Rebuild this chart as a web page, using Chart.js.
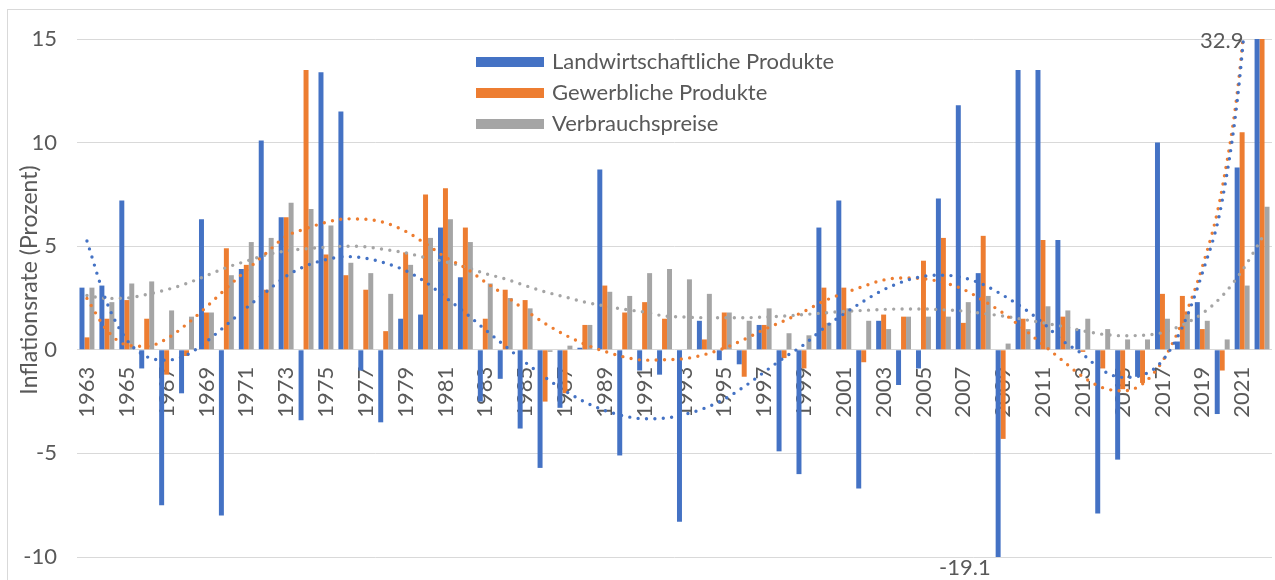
<!DOCTYPE html>
<html>
<head>
<meta charset="utf-8">
<title>Inflationsrate</title>
<script src="https://cdn.jsdelivr.net/npm/chart.js@4.4.0/dist/chart.umd.min.js"></script>
<style>
    html, body { margin: 0; padding: 0; background: #fff; }
    #wrap { position: relative; width: 1275px; height: 580px; }
</style>
</head>
<body>
<div id="wrap"><canvas id="inflationChart"></canvas></div>
<script>
// Jahre
const years = [
    '1963', '1964', '1965', '1966', '1967', '1968', '1969', '1970', '1971', '1972',
    '1973', '1974', '1975', '1976', '1977', '1978', '1979', '1980', '1981', '1982',
    '1983', '1984', '1985', '1986', '1987', '1988', '1989', '1990', '1991', '1992',
    '1993', '1994', '1995', '1996', '1997', '1998', '1999', '2000', '2001', '2002',
    '2003', '2004', '2005', '2006', '2007', '2008', '2009', '2010', '2011', '2012',
    '2013', '2014', '2015', '2016', '2017', '2018', '2019', '2020', '2021', '2022'
];

// Landwirtschaftliche Produkte (%)
const landwirtschaft = [
    3.0, 3.1, 7.2, -0.9, -7.5, -2.1, 6.3, -8.0, 3.9, 10.1,
    6.4, -3.4, 13.4, 11.5, -1.0, -3.5, 1.5, 1.7, 5.9, 3.5,
    -2.5, -1.4, -3.8, -5.7, -2.8, 0.1, 8.7, -5.1, -1.0, -1.2,
    -8.3, 1.4, -0.5, -0.7, 1.2, -4.9, -6.0, 5.9, 7.2, -6.7,
    1.4, -1.7, -0.9, 7.3, 11.8, 3.7, -19.1, 13.5, 13.5, 5.3,
    1.0, -7.9, -5.3, -1.3, 10.0, 0.4, 2.3, -3.1, 8.8, 34.0
];

// Gewerbliche Produkte (%)
const gewerblich = [
    0.6, 1.5, 2.4, 1.5, -1.2, -0.3, 1.8, 4.9, 4.1, 2.9,
    6.4, 13.5, 4.6, 3.6, 2.9, 0.9, 4.7, 7.5, 7.8, 5.9,
    1.5, 2.9, 2.4, -2.5, -2.1, 1.2, 3.1, 1.8, 2.3, 1.5,
    0.0, 0.5, 1.8, -1.3, 1.2, -0.4, -0.9, 3.0, 3.0, -0.6,
    1.7, 1.6, 4.3, 5.4, 1.3, 5.5, -4.3, 1.5, 5.3, 1.6,
    -0.1, -0.9, -1.9, -1.6, 2.7, 2.6, 1.0, -1.0, 10.5, 32.9
];

// Verbrauchspreise (%)
const verbrauch = [
    3.0, 2.3, 3.2, 3.3, 1.9, 1.6, 1.8, 3.6, 5.2, 5.4,
    7.1, 6.8, 6.0, 4.2, 3.7, 2.7, 4.1, 5.4, 6.3, 5.2,
    3.2, 2.5, 2.0, -0.1, 0.2, 1.2, 2.8, 2.6, 3.7, 3.9,
    3.4, 2.7, 1.8, 1.4, 2.0, 0.8, 0.7, 1.3, 2.0, 1.4,
    1.0, 1.6, 1.6, 1.6, 2.3, 2.6, 0.3, 1.0, 2.1, 1.9,
    1.5, 1.0, 0.5, 0.5, 1.5, 1.8, 1.4, 0.5, 3.1, 6.9
];

// Trendlinien
const trendLandwirtschaft = [
    5.25, 2.28, 0.48, -0.33, -0.5, -0.25, 0.4, 1.2, 2.02, 2.8,
    3.55, 4.05, 4.35, 4.5, 4.42, 4.18, 3.82, 3.27, 2.53, 1.78,
    0.97, 0.18, -0.6, -1.33, -1.98, -2.52, -2.93, -3.2, -3.33, -3.3,
    -3.12, -2.82, -2.38, -1.78, -1.08, -0.38, 0.25, 1.05, 1.73, 2.35,
    2.9, 3.3, 3.55, 3.6, 3.48, 3.15, 2.63, 2.02, 1.3, 0.43,
    -0.22, -1.0, -1.33, -1.22, -0.52, 1.1, 3.7, 7.2, 14.3, 28.0
];
const trendGewerblich = [
    2.48, 0.95, 0.23, 0.17, 0.53, 1.23, 2.07, 2.97, 3.83, 4.67,
    5.48, 5.85, 6.15, 6.32, 6.3, 6.12, 5.72, 5.12, 4.47, 3.95,
    3.27, 2.62, 1.92, 1.27, 0.72, 0.27, -0.08, -0.35, -0.5, -0.48,
    -0.43, -0.23, 0.08, 0.5, 0.98, 1.4, 1.85, 2.35, 2.73, 3.07,
    3.37, 3.47, 3.43, 3.25, 2.92, 2.38, 1.77, 1.03, 0.25, -0.53,
    -1.3, -1.83, -1.98, -1.65, -0.55, 1.35, 4.0, 7.8, 14.6, 28.0
];
const trendVerbrauch = [
    2.62, 2.48, 2.5, 2.67, 2.9, 3.2, 3.58, 3.97, 4.28, 4.58,
    4.77, 4.88, 4.95, 5.0, 4.97, 4.83, 4.68, 4.45, 4.25, 4.0,
    3.68, 3.42, 3.1, 2.8, 2.55, 2.3, 2.12, 1.95, 1.82, 1.63,
    1.58, 1.55, 1.55, 1.55, 1.58, 1.63, 1.7, 1.78, 1.85, 1.9,
    1.95, 1.97, 1.97, 1.93, 1.87, 1.75, 1.63, 1.47, 1.3, 1.13,
    0.92, 0.75, 0.68, 0.7, 0.83, 1.2, 1.75, 2.6, 3.82, 5.4
];

// Achse
const yTicks = [-10, -5, 0, 5, 10, 15];
const yTitle = 'Inflationsrate (Prozent)';

const seriesNames = ['Landwirtschaftliche Produkte', 'Gewerbliche Produkte', 'Verbrauchspreise'];
const colors = ['#4472C4', '#ED7D31', '#A5A5A5'];
const textColor = '#595959';
const gridColor = '#D9D9D9';
const fontFamily = 'Lato, "Open Sans", sans-serif';

// Rahmen, Achsentitel, Legende und Datenbeschriftungen
const decorations = {
    id: 'decorations',
    beforeDraw(chart) {
        const ctx = chart.ctx;
        ctx.save();
        ctx.fillStyle = '#fff';
        ctx.fillRect(0, 0, chart.width, chart.height);
        ctx.strokeStyle = gridColor;
        ctx.lineWidth = 1;
        ctx.strokeRect(7.5, 9.5, chart.width + 20, chart.height + 20);
        ctx.restore();
    },
    afterDraw(chart) {
        const ctx = chart.ctx;
        const area = chart.chartArea;

        // y axis title
        ctx.save();
        ctx.translate(30, 280);
        ctx.rotate(-Math.PI / 2);
        ctx.font = '23px ' + fontFamily;
        ctx.fillStyle = textColor;
        ctx.textAlign = 'center';
        ctx.textBaseline = 'middle';
        ctx.fillText(yTitle, 0, 0);
        ctx.restore();

        // legend inside the plot
        ctx.save();
        ctx.font = '22px ' + fontFamily;
        ctx.textBaseline = 'middle';
        ctx.textAlign = 'left';
        seriesNames.forEach((name, i) => {
            const rowY = 62 + i * 31;
            ctx.fillStyle = colors[i];
            ctx.fillRect(476, rowY - 5, 68, 10);
            ctx.fillStyle = textColor;
            ctx.fillText(name, 552, rowY);
        });
        ctx.restore();

        // data labels for clipped bars
        const blueMeta = chart.getDatasetMeta(0);
        const last = years.length - 1;
        const i2009 = years.indexOf('2009');
        const barLast = blueMeta.data[last];
        const bar2009 = blueMeta.data[i2009];
        ctx.save();
        ctx.font = '22px ' + fontFamily;
        ctx.fillStyle = textColor;
        ctx.textAlign = 'right';
        ctx.textBaseline = 'middle';
        ctx.fillText(gewerblich[last].toFixed(1), barLast.x - barLast.width / 2 - 11, area.top + 2);
        ctx.fillText(landwirtschaft[i2009].toFixed(1), bar2009.x - bar2009.width / 2 - 5, area.bottom + 11);
        ctx.restore();
    }
};

function trendDataset(label, data, color) {
    return {
        type: 'line',
        label: label,
        data: data,
        borderColor: color,
        borderWidth: 3.4,
        borderDash: [0, 8.4],
        borderCapStyle: 'round',
        pointRadius: 0,
        fill: false,
        cubicInterpolationMode: 'monotone',
        order: 0
    };
}

function barDataset(label, data, color) {
    return {
        type: 'bar',
        label: label,
        data: data,
        backgroundColor: color,
        borderWidth: 0,
        categoryPercentage: 0.75,
        barPercentage: 1.0,
        order: 1
    };
}

const ctx = document.getElementById('inflationChart').getContext('2d');
const chart = new Chart(ctx, {
    data: {
        labels: years,
        datasets: [
            barDataset(seriesNames[0], landwirtschaft, colors[0]),
            barDataset(seriesNames[1], gewerblich, colors[1]),
            barDataset(seriesNames[2], verbrauch, colors[2]),
            trendDataset('Trend ' + seriesNames[0], trendLandwirtschaft, colors[0]),
            trendDataset('Trend ' + seriesNames[1], trendGewerblich, colors[1]),
            trendDataset('Trend ' + seriesNames[2], trendVerbrauch, colors[2])
        ]
    },
    options: {
        responsive: true,
        maintainAspectRatio: false,
        animation: false,
        devicePixelRatio: 1,
        layout: {
            padding: { top: 39, right: 3, bottom: 23, left: 0 }
        },
        plugins: {
            legend: { display: false },
            tooltip: { enabled: false }
        },
        scales: {
            x: {
                type: 'category',
                position: { y: 0 },
                offset: true,
                grid: { display: false, drawTicks: false },
                border: { display: false },
                ticks: {
                    autoSkip: false,
                    minRotation: 90,
                    maxRotation: 90,
                    padding: 17,
                    color: textColor,
                    font: { family: fontFamily, size: 22 },
                    callback: (value, index) => (index % 2 === 0 ? years[index] : '')
                },
                afterFit: (scale) => {
                    scale.paddingLeft = 0;
                    scale.paddingRight = 0;
                    scale.paddingTop = 0;
                    scale.paddingBottom = 0;
                }
            },
            y: {
                min: yTicks[0],
                max: yTicks[yTicks.length - 1],
                grid: { color: gridColor, lineWidth: 1, drawTicks: false },
                border: { display: false },
                afterBuildTicks: (scale) => {
                    scale.ticks = yTicks.map(v => ({ value: v }));
                },
                afterFit: (scale) => {
                    scale.width = 77;
                    scale.paddingTop = 0;
                    scale.paddingBottom = 0;
                },
                ticks: {
                    padding: 20,
                    color: textColor,
                    font: { family: fontFamily, size: 22 }
                }
            }
        }
    },
    plugins: [decorations]
});
</script>
</body>
</html>
